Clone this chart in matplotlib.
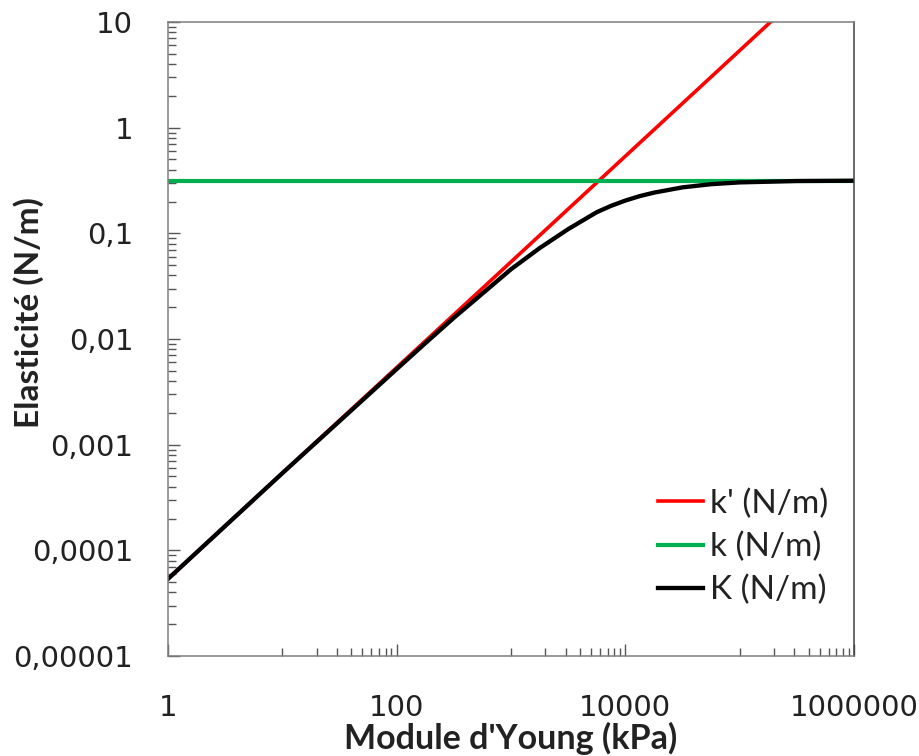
import numpy as np
import matplotlib
matplotlib.use('Agg')
import matplotlib.pyplot as plt
from matplotlib.ticker import FixedLocator, NullFormatter

# values (log-log)
young = [1, 1e6]
k_prime = [5.37e-5, 53.7]          # k' (N/m), straight line of slope 1
k_const = [0.315, 0.315]           # k (N/m)

young_K = [1, 10, 100, 178, 316, 562, 1000, 1778, 3162, 5623, 7499,
           10000, 13335, 17783, 31623, 56234, 100000, 316228, 1000000]
K_total = [5.37e-5, 5.37e-4, 5.19e-3, 9.12e-3, 0.01585, 0.0269, 0.0457,
           0.0724, 0.1096, 0.1585, 0.182, 0.2042, 0.2249, 0.2427, 0.2723,
           0.2917, 0.3034, 0.3126, 0.3148]

x_major = [1, 100, 10000, 1000000]
x_major_labels = ['1', '100', '10000', '1000000']
y_major = [1e-5, 1e-4, 1e-3, 1e-2, 1e-1, 1, 10]
y_major_labels = ['0,00001', '0,0001', '0,001', '0,01', '0,1', '1', '10']

legend_labels = ["k' (N/m)", "k (N/m)", "K (N/m)"]

fig = plt.figure(figsize=(9.2, 7.56), dpi=100)
ax = fig.add_axes([168/920, 1-656/756, 686/920, 634/756])

ax.plot(young, k_prime, color='#ff0000', lw=2.6, label=legend_labels[0])
ax.plot(young, k_const, color='#00b050', lw=3.0, label=legend_labels[1])
ax.plot(young_K, K_total, color='black', lw=3.1, label=legend_labels[2])

ax.set_xscale('log')
ax.set_yscale('log')
ax.set_xlim(1, 1e6)
ax.set_ylim(1e-5, 10)

# excel style: labels every two decades, minor ticks only in odd decades
ax.xaxis.set_major_locator(FixedLocator(x_major))
ax.set_xticklabels(x_major_labels)
x_minor = [m * 10.0**d for d in (1, 3, 5) for m in range(1, 10)]
ax.xaxis.set_minor_locator(FixedLocator(x_minor))
ax.xaxis.set_minor_formatter(NullFormatter())

ax.yaxis.set_major_locator(FixedLocator(y_major))
ax.set_yticklabels(y_major_labels)
y_minor = [m * 10.0**d for d in range(-5, 1) for m in range(2, 10)]
ax.yaxis.set_minor_locator(FixedLocator(y_minor))
ax.yaxis.set_minor_formatter(NullFormatter())

ax.tick_params(which='both', direction='in', color='#555555', width=1.0)
ax.tick_params(which='major', length=8.6)
ax.tick_params(which='minor', length=6)
ax.tick_params(axis='x', which='major', pad=27, labelsize=21, labelcolor='#222222')
ax.tick_params(axis='y', which='major', pad=25, labelsize=21, labelcolor='#222222')
ax.tick_params(top=False, right=False, which='both')

for side in ['left', 'top', 'bottom']:
    ax.spines[side].set_color('#7f7f7f')
    ax.spines[side].set_linewidth(1.1)
ax.spines['right'].set_color('#404040')
ax.spines['right'].set_linewidth(1.1)

fig.text(511/920, 1-738/756, "Module d'Young (kPa)", ha='center', va='center',
         fontsize=24.5, fontweight='bold', family='Lato', color='#222222')
fig.text(29/920, 1-313/756, "Elasticité (N/m)", ha='center', va='center',
         rotation=90, fontsize=24, fontweight='bold', family='Lato', color='#222222')

leg = ax.legend(loc='center', bbox_to_anchor=(743/920, 1-547/756),
                bbox_transform=fig.transFigure, frameon=False,
                prop={'family': 'Lato', 'size': 24}, handlelength=1.35,
                handletextpad=0.21, labelspacing=0.38, borderpad=0)
for t in leg.get_texts():
    t.set_color('#222222')

fig.savefig('out.png', dpi=100)
